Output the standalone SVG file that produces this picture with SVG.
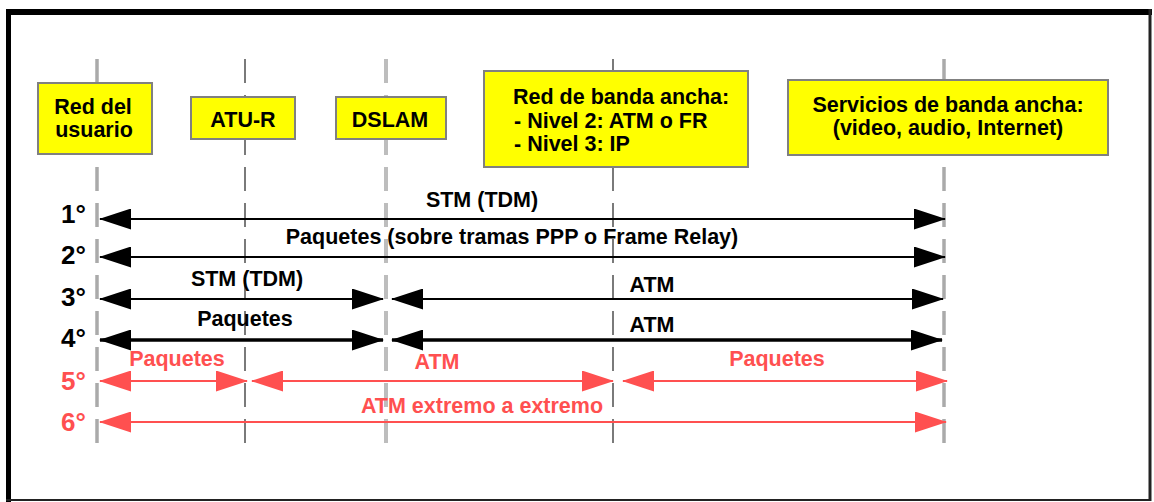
<svg xmlns="http://www.w3.org/2000/svg" width="1154" height="502" viewBox="0 0 1154 502">
<style>
.box{fill:#ffff00;stroke:#808080;stroke-width:2}
.t{font-family:"Liberation Sans",Arial,sans-serif;font-weight:bold;font-size:21.5px;fill:#000}
.c{text-anchor:middle}
.n{font-family:"Liberation Sans",Arial,sans-serif;font-weight:bold;font-size:26px;fill:#000}
.red{fill:#ff5050}
.lf{stroke:#aaaaaa;stroke-width:3.5;stroke-dasharray:24 12;fill:none}
.dk{stroke:#7a7a7a;stroke-width:2;stroke-dasharray:24 12;fill:none}
.lt{stroke:#bdbdbd;stroke-width:4;stroke-dasharray:24 12;fill:none}
.ab{stroke:#000;stroke-width:2;fill:none;marker-start:url(#hb);marker-end:url(#hb)}
.ab4{stroke:#000;stroke-width:3.5;fill:none;marker-start:url(#hb);marker-end:url(#hb)}
.ar{stroke:#ff5050;stroke-width:2;fill:none;marker-start:url(#hr);marker-end:url(#hr)}
</style>
<defs>
<marker id="hb" viewBox="0 0 32 21" refX="31" refY="10.5" markerWidth="32" markerHeight="21" markerUnits="userSpaceOnUse" orient="auto-start-reverse">
<path d="M0,0 L32,10.5 L0,21 Z" fill="#000"/>
</marker>
<marker id="hr" viewBox="0 0 32 21" refX="31" refY="10.5" markerWidth="32" markerHeight="21" markerUnits="userSpaceOnUse" orient="auto-start-reverse">
<path d="M0,0 L32,10.5 L0,21 Z" fill="#ff5050"/>
</marker>
</defs>
<rect x="0" y="0" width="1154" height="502" fill="#fff"/>
<g id="frame">
<rect x="6" y="9" width="1146" height="6" fill="#000"/>
<rect x="6" y="9" width="5" height="493" fill="#000"/>
<line x1="1150" y1="9" x2="1150" y2="501" stroke="#222" stroke-width="3"/>
<line x1="6" y1="500" x2="1151" y2="500" stroke="#222" stroke-width="2"/>
</g>
<g id="lifelines">
<line class="lf" x1="97" y1="59" x2="97" y2="443"/>
<line class="dk" x1="245" y1="59" x2="245" y2="443"/>
<line class="lt" x1="386" y1="59" x2="386" y2="443"/>
<line class="dk" x1="613" y1="59" x2="613" y2="443"/>
<line class="lf" x1="944" y1="59" x2="944" y2="443"/>
</g>
<g id="node-red-usuario">
<rect class="box" x="38" y="83" width="114" height="71"/>
<text class="t c" x="93" y="114">Red del</text>
<text class="t c" x="94" y="137">usuario</text>
</g>
<g id="node-atur">
<rect class="box" x="191" y="97" width="104" height="42"/>
<text class="t c" x="243" y="127">ATU-R</text>
</g>
<g id="node-dslam">
<rect class="box" x="336" y="97" width="110" height="42"/>
<text class="t c" x="390" y="127">DSLAM</text>
</g>
<g id="node-red-banda">
<rect class="box" x="484" y="71" width="264" height="96"/>
<text class="t" x="513" y="104">Red de banda ancha:</text>
<text class="t" x="514" y="128">- Nivel 2: ATM o FR</text>
<text class="t" x="514" y="151">- Nivel 3: IP</text>
</g>
<g id="node-servicios">
<rect class="box" x="788" y="80" width="320" height="75"/>
<text class="t c" x="948" y="112">Servicios de banda ancha:</text>
<text class="t c" x="948" y="135">(video, audio, Internet)</text>
</g>
<g id="connectors">
<line class="ab" x1="100" y1="219" x2="945" y2="219"/>
<line class="ab" x1="100" y1="257" x2="945" y2="257"/>
<line class="ab" x1="100" y1="299" x2="383" y2="299"/>
<line class="ab" x1="392" y1="299" x2="943" y2="299"/>
<line class="ab4" x1="100" y1="340" x2="383" y2="340"/>
<line class="ab4" x1="392" y1="340" x2="942" y2="340"/>
<line class="ar" x1="100" y1="381" x2="247" y2="381"/>
<line class="ar" x1="252" y1="381" x2="613" y2="381"/>
<line class="ar" x1="623" y1="381" x2="947" y2="381"/>
<line class="ar" x1="100" y1="422" x2="946" y2="422"/>
</g>
<g id="connector-labels">
<text class="t c" x="482" y="207">STM (TDM)</text>
<text class="t c" x="512" y="244">Paquetes (sobre tramas PPP o Frame Relay)</text>
<text class="t c" x="247" y="286">STM (TDM)</text>
<text class="t c" x="652" y="292">ATM</text>
<text class="t c" x="245" y="326">Paquetes</text>
<text class="t c" x="652" y="332">ATM</text>
<text class="t c red" x="177" y="366">Paquetes</text>
<text class="t c red" x="437" y="369">ATM</text>
<text class="t c red" x="777" y="366">Paquetes</text>
<text class="t c red" x="482" y="413">ATM extremo a extremo</text>
</g>
<g id="row-numbers">
<text class="n" x="61" y="223">1°</text>
<text class="n" x="61" y="264">2°</text>
<text class="n" x="61" y="306">3°</text>
<text class="n" x="61" y="347">4°</text>
<text class="n red" x="61" y="390">5°</text>
<text class="n red" x="61" y="431">6°</text>
</g>
</svg>
